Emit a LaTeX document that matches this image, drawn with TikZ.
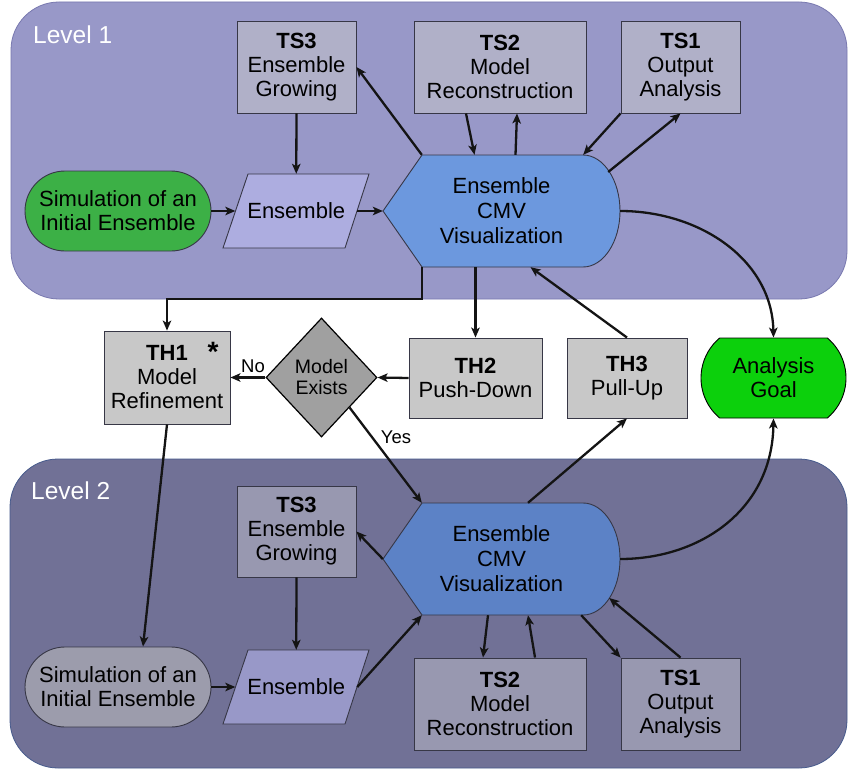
\documentclass[tikz,border=0pt]{standalone}
\usepackage{fontspec}
\setmainfont{Liberation Sans}
\usetikzlibrary{shapes.geometric,shapes.misc,arrows.meta,calc}
\definecolor{lvA}{RGB}{152,152,200}
\definecolor{lvAline}{RGB}{120,120,175}
\definecolor{lvB}{RGB}{113,113,150}
\definecolor{lvBline}{RGB}{70,90,140}
\definecolor{tsA}{RGB}{176,176,200}
\definecolor{tsB}{RGB}{152,152,176}
\definecolor{ensA}{RGB}{173,173,224}
\definecolor{ensB}{RGB}{152,152,200}
\definecolor{cmvA}{RGB}{108,152,222}
\definecolor{cmvB}{RGB}{92,130,198}
\definecolor{simA}{RGB}{60,176,70}
\definecolor{simB}{RGB}{156,156,172}
\definecolor{goalc}{RGB}{12,208,12}
\definecolor{thc}{RGB}{200,200,200}
\definecolor{diac}{RGB}{160,160,160}
\definecolor{edge}{RGB}{55,55,70}
\definecolor{wire}{RGB}{20,20,20}
\begin{document}
\begin{tikzpicture}[x=1pt,y=-1pt,
  txt/.style={font=\fontsize{22}{24}\selectfont, align=center, inner sep=0pt, text=black},
  box/.style={txt, rectangle, draw=edge, line width=0.9pt},
  shapeline/.style={draw=edge, line width=0.9pt},
  lvl/.style={font=\fontsize{24.5}{26}\selectfont, text=white, inner sep=0pt},
  small/.style={font=\fontsize{18.5}{20}\selectfont, inner sep=0pt, text=black},
  conn/.style={draw=wire, line width=2.3pt, -{Stealth[length=10pt,width=8.5pt,inset=2.5pt]}}]
\useasboundingbox (0,0) rectangle (856,781);
\fill[white] (0,0) rectangle (856,781);
% panels
\draw[draw=lvAline, fill=lvA, line width=0.8pt, rounded corners=48pt] (11,2) rectangle (847,299);
\draw[draw=lvBline, fill=lvB, line width=0.8pt, rounded corners=48pt] (10,459) rectangle (847,768);
\node[lvl, anchor=west] (lvl1) at (33,35) {Level 1};
\node[lvl, anchor=west] (lvl2) at (31,491) {Level 2};
% display shapes
\path[shapeline, fill=cmvA] (383,211) -- (422,155) -- (583,155) .. controls (603.4,155) and (620,180.1) .. (620,211) .. controls (620,241.9) and (603.4,267) .. (583,267) -- (422,267) -- cycle;
\path[shapeline, fill=cmvB] (383,559) -- (422,503) -- (583,503) .. controls (603.4,503) and (620,528.1) .. (620,559) .. controls (620,589.9) and (603.4,615) .. (583,615) -- (422,615) -- cycle;
% parallelograms
\path[shapeline, fill=ensA] (248,174) -- (369,174) -- (345,248) -- (223,248) -- cycle;
\path[shapeline, fill=ensB] (248,650) -- (369,650) -- (345,724) -- (223,724) -- cycle;
% level 1 nodes
\node[box, fill=tsA, minimum width=119pt, minimum height=92pt] (ts3a) at (296.5,67) {\textbf{TS3}\\Ensemble\\Growing};
\node[box, fill=tsA, minimum width=172pt, minimum height=92pt] (ts2a) at (500,67) {\textbf{TS2}\\Model\\Reconstruction};
\node[box, fill=tsA, minimum width=119pt, minimum height=92pt] (ts1a) at (680.5,67) {\textbf{TS1}\\Output\\Analysis};
\node[txt, rounded rectangle, draw=edge, line width=0.9pt, fill=simA, minimum width=186pt, minimum height=80pt] (sim1) at (118,211) {Simulation of an\\Initial Ensemble};
\node[txt, minimum width=121.5pt, minimum height=74pt] (ens1) at (296.25,211) {Ensemble};
\node[txt, minimum width=237pt, minimum height=112pt, font=\fontsize{22}{25}\selectfont] (cmv1) at (501.5,211) {Ensemble\\CMV\\Visualization};
% level 2 nodes
\node[box, fill=tsB, minimum width=119pt, minimum height=91pt] (ts3b) at (296.5,531.5) {\textbf{TS3}\\Ensemble\\Growing};
\node[box, fill=tsB, minimum width=172pt, minimum height=92pt] (ts2b) at (500,704) {\textbf{TS2}\\Model\\Reconstruction};
\node[box, fill=tsB, minimum width=119pt, minimum height=92pt] (ts1b) at (680.5,704) {\textbf{TS1}\\Output\\Analysis};
\node[txt, rounded rectangle, draw=edge, line width=0.9pt, fill=simB, minimum width=186pt, minimum height=80pt] (sim2) at (118,687) {Simulation of an\\Initial Ensemble};
\node[txt, minimum width=121.5pt, minimum height=74pt] (ens2) at (296.25,687) {Ensemble};
\node[txt, minimum width=237pt, minimum height=112pt, font=\fontsize{22}{25}\selectfont] (cmv2) at (501.5,559) {Ensemble\\CMV\\Visualization};
% middle nodes
\node[box, fill=thc, minimum width=126pt, minimum height=93pt] (th1) at (167,377.5) {\textbf{TH1}\\Model\\Refinement};
\node[txt, font=\fontsize{28}{28}\bfseries] (th1star) at (213,352) {*};
\node[diamond, draw=black, line width=1.2pt, fill=diac, minimum width=111pt, minimum height=119pt, inner sep=0pt, align=center, font=\fontsize{19.5}{21}\selectfont] (dia) at (321.5,377.5) {Model\\Exists};
\node[box, fill=thc, minimum width=133pt, minimum height=80pt] (th2) at (475.5,378) {\textbf{TH2}\\Push-Down};
\node[box, fill=thc, minimum width=120pt, minimum height=80pt] (th3) at (627,378) {\textbf{TH3}\\Pull-Up};
\node[txt, rounded rectangle, rounded rectangle arc length=100, draw=black, line width=0.9pt, fill=goalc, minimum width=145pt, minimum height=80pt] (goal) at (773.5,378) {Analysis\\Goal};
% level 1 connectors
\draw[conn] (sim1.east) -- (ens1.west);
\draw[conn] (ens1.east) -- (cmv1.west);
\draw[conn] (ts3a.south) -- (ens1.north);
\draw[conn] ($(cmv1.north west)+(39,0)$) -- (ts3a.east);
\draw[conn] ($(ts2a.south)+(-34,0)$) -- ($(cmv1.north)+(-27,0)$);
\draw[conn] ($(cmv1.north)+(14,0)$) -- ($(ts2a.south)+(17,0)$);
\draw[conn] (ts1a.south west) -- ($(cmv1.north east)+(-37,0)$);
\draw[conn] ($(cmv1.east)+(-12,-39)$) -- (ts1a.south);
\draw[conn] (cmv1.east) .. controls (700,211) and (772,260) .. (goal.north);
\draw[conn] ($(cmv1.south west)+(39,0)$) -- ++(0,32) -| (th1.north);
\draw[conn] (th2.north |- cmv1.south) -- (th2.north);
\draw[conn] (th3.north) -- ($(cmv1.south)+(29,0)$);
% middle connectors
\draw[conn] (th2.west) -- (dia.east);
\draw[conn] (dia.west) -- (th1.east);
\node[small] (nolbl) at (253,366) {No};
\draw[conn] ($(dia.east)!0.5!(dia.south)$) -- ($(cmv2.north west)+(39,0)$);
\node[small] (yeslbl) at (396,437) {Yes};
\draw[conn] ($(cmv2.north)+(26.5,0)$) -- (th3.south);
\draw[conn] (cmv2.east) .. controls (700,559) and (772,510) .. (goal.south);
\draw[conn] (th1.south) -- ($(sim2.north)+(25,0)$);
% level 2 connectors
\draw[conn] (sim2.east) -- (ens2.west);
\draw[conn] (ts3b.south) -- (ens2.north);
\draw[conn] (cmv2.west) -- (ts3b.east);
\draw[conn] (ens2.east) -- ($(cmv2.south west)+(39,0)$);
\draw[conn] ($(cmv2.south)+(-13.5,0)$) -- ($(ts2b.north)+(-17,0)$);
\draw[conn] ($(ts2b.north)+(35,0)$) -- ($(cmv2.south)+(26.5,0)$);
\draw[conn] ($(cmv2.south east)+(-39,0)$) -- (ts1b.north west);
\draw[conn] (ts1b.north) -- ($(cmv2.east)+(-11,39)$);
\end{tikzpicture}
\end{document}
